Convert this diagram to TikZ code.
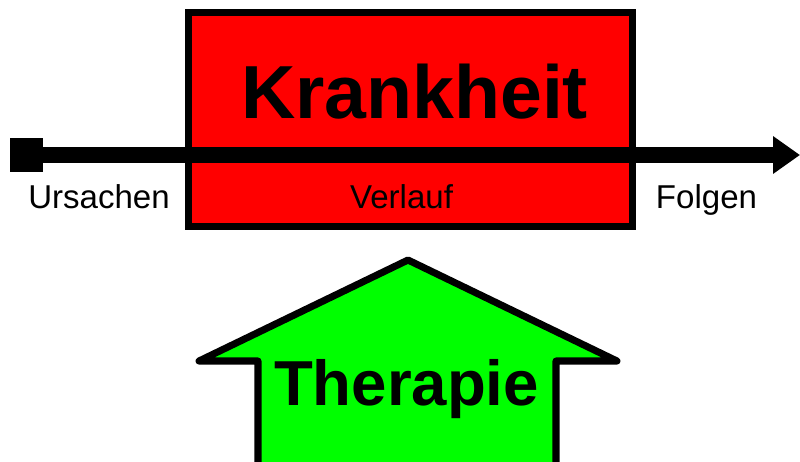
\documentclass[tikz,border=0pt]{standalone}
\usepackage{fontspec}
\setmainfont{Liberation Sans}
\usetikzlibrary{positioning,arrows.meta}

\begin{document}
\begin{tikzpicture}[
        x=0.025cm, y=-0.025cm,
        krankbox/.style={draw, fill=red, line width=5pt, minimum width=11.09cm, minimum height=5.34cm, inner sep=0pt},
        startbox/.style={fill=black, minimum size=0.83cm, inner sep=0pt},
        axisline/.style={line width=10.7pt, -{Triangle[length=0.675cm, width=0.9cm]}},
        therapyarrow/.style={draw, fill=green, line width=5pt, line join=round},
        bigtext/.style={font=\fontsize{53.5pt}{62pt}\selectfont\bfseries, inner sep=0pt},
        midtext/.style={font=\fontsize{45.2pt}{52pt}\selectfont\bfseries, inner sep=0pt},
        smalltext/.style={font=\fontsize{23.5pt}{28pt}\selectfont, inner sep=0pt}
    ]

    \clip (0,0) rectangle (800,461);

    % Krankheit (box)
    \node[krankbox] (krankheit) at (410.25,119.75) {};

    % time axis
    \node[startbox] (start) at (26.5,155) {};
    \coordinate (ende) at (800,155);
    \draw[axisline] (start.center) -- (ende);

    % labels
    \node[bigtext, anchor=base] (krank) at (414.5,118) {Krankheit};
    \node[smalltext, anchor=base] (ursachen) at (99,208) {Ursachen};
    \node[smalltext, anchor=base] (verlauf) at (401.5,208) {Verlauf};
    \node[smalltext, anchor=base] (folgen) at (706.5,208) {Folgen};

    % Therapie arrow
    \draw[therapyarrow] (408,260) -- (617,361) -- (556,361) -- (556,480)
        -- (258,480) -- (258,361) -- (199,361) -- cycle;
    \node[midtext, anchor=base] (therapie) at (406.5,405) {Therapie};

\end{tikzpicture}
\end{document}
